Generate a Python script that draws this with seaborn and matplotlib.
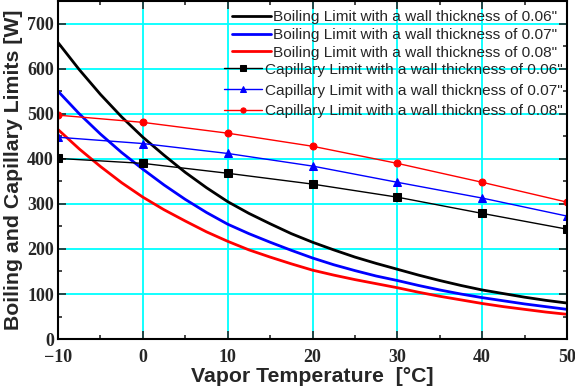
import numpy as np
import pandas as pd
import matplotlib
matplotlib.use('Agg')
import matplotlib.pyplot as plt
from matplotlib.ticker import MultipleLocator
import seaborn as sns

# boiling limit curves (read every 2.5 degC)
t_boil = [-10, -7.5, -5, -2.5, 0, 2.5, 5, 7.5, 10, 12.5, 15, 17.5, 20, 22.5, 25,
          27.5, 30, 32.5, 35, 37.5, 40, 42.5, 45, 47.5, 50]
boil_006 = [658, 598, 543, 493, 448, 408, 370, 336, 305, 279, 256, 234, 215, 198, 182,
            168, 155, 142, 130, 119, 109, 101, 93, 86, 80]
boil_007 = [550, 500, 455, 414, 377, 342, 310, 281, 255, 234, 215, 197, 180, 165, 152,
            140, 130, 119, 109, 100, 92, 85, 78, 72, 66]
boil_008 = [465, 422, 383, 347, 315, 287, 262, 238, 217, 198, 182, 167, 153, 142, 132,
            123, 114, 104, 95, 87, 79, 72, 66, 60, 55]

# capillary limit points
t_cap = [-10, 0, 10, 20, 30, 40, 50]
cap_006 = [401, 390, 368, 344, 315, 279, 244]
cap_007 = [448, 434, 412, 384, 348, 313, 273]
cap_008 = [497, 481, 457, 428, 390, 348, 304]

sns.set_style('ticks')
plt.rcParams['font.family'] = ['Liberation Sans', 'DejaVu Sans']

fig = plt.figure(figsize=(5.75, 3.92), dpi=100)
ax = fig.add_axes([0.101, 0.135, 0.885, 0.862])

lbl = 'Boiling Limit with a wall thickness of {}"'
sns.lineplot(x=t_boil, y=boil_006, color='black', lw=2, label=lbl.format('0.06'), ax=ax)
sns.lineplot(x=t_boil, y=boil_007, color='blue', lw=2, label=lbl.format('0.07'), ax=ax)
sns.lineplot(x=t_boil, y=boil_008, color='red', lw=2, label=lbl.format('0.08'), ax=ax)

lbl = 'Capillary Limit with a wall thickness of {}"'
sns.lineplot(x=t_cap, y=cap_006, color='black', lw=1, marker='s', ms=6, mec='black',
             label=lbl.format('0.06'), ax=ax)
sns.lineplot(x=t_cap, y=cap_007, color='blue', lw=1, marker='^', ms=6, mec='blue',
             label=lbl.format('0.07'), ax=ax)
sns.lineplot(x=t_cap, y=cap_008, color='red', lw=1, marker='o', ms=5, mec='red',
             label=lbl.format('0.08'), ax=ax)

ax.set_xlim(-10, 50)
ax.set_ylim(0, 750)
ax.xaxis.set_major_locator(MultipleLocator(10))
ax.xaxis.set_minor_locator(MultipleLocator(5))
ax.yaxis.set_major_locator(MultipleLocator(100))
ax.yaxis.set_minor_locator(MultipleLocator(50))
ax.grid(True, which='major', color='#00FFFF', lw=1.3)
ax.set_axisbelow(True)
ax.tick_params(which='both', direction='in', top=True, right=True, width=1.2)
ax.tick_params(which='major', length=6)
ax.tick_params(which='minor', length=3)
ax.tick_params(axis='x', pad=7)
ax.tick_params(axis='y', pad=3)
for s in ax.spines.values():
    s.set_linewidth(1.5)
    s.set_color('black')
for t in ax.get_xticklabels() + ax.get_yticklabels():
    t.set_fontfamily('Liberation Serif')
    t.set_fontweight('bold')
    t.set_fontsize(13)

ax.set_xlabel('Vapor Temperature  [°C]', fontsize=15.3, fontweight='bold', labelpad=1)
ax.set_ylabel('Boiling and Capillary Limits [W]', fontsize=15.3, fontweight='bold', labelpad=3)

# two legends, both right aligned, like the original
handles, labels = ax.get_legend_handles_labels()
leg1 = ax.legend(handles[:3], labels[:3], loc='upper right', frameon=False, fontsize=11.1,
                 handlelength=2.5, bbox_to_anchor=(0.999, 1.0), borderaxespad=0.2,
                 labelspacing=0.24, handletextpad=0.15)
ax.add_artist(leg1)
leg2 = ax.legend(handles[3:], labels[3:], loc='upper right', frameon=False, fontsize=11.1,
                 handlelength=2.5, bbox_to_anchor=(1.009, 0.845), borderaxespad=0.2,
                 labelspacing=0.44, handletextpad=0.15, markerscale=0.75)

fig.savefig('out.png', dpi=100)
